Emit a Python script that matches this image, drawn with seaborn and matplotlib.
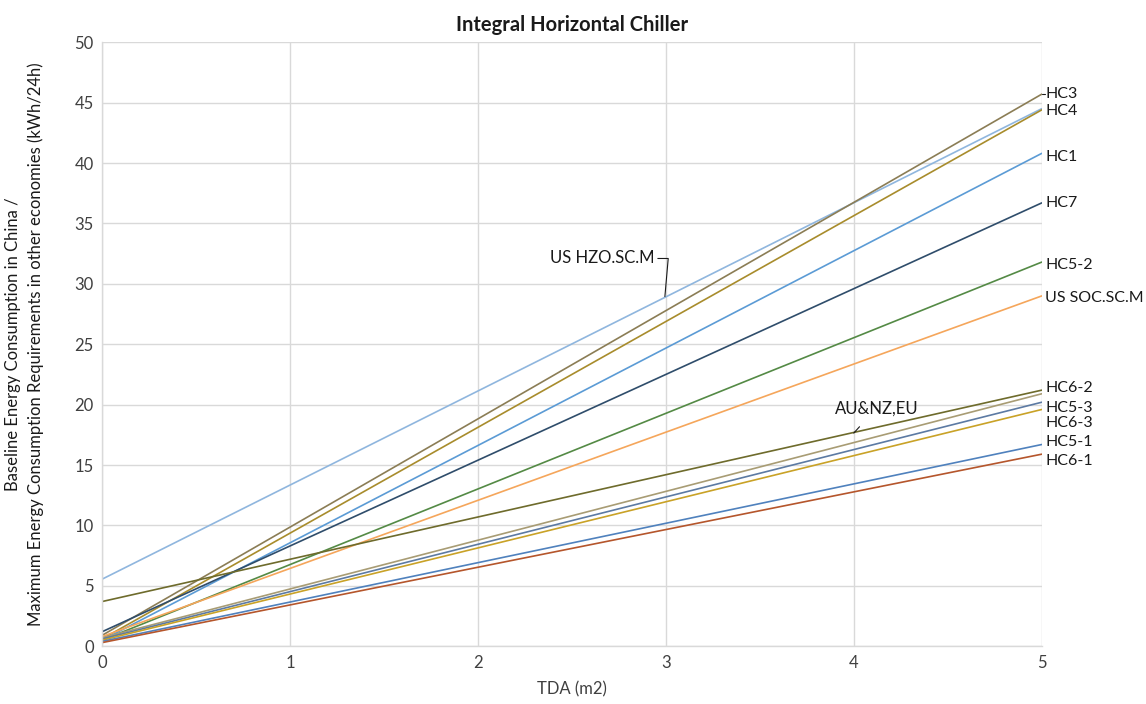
import matplotlib
matplotlib.use("Agg")
import matplotlib.pyplot as plt
import seaborn as sns
import pandas as pd

# Straight-line energy limits: value at TDA = 0 and at TDA = 5 m2
series = ["US HZO.SC.M", "HC3", "HC4", "HC1", "HC7", "HC5-2", "US SOC.SC.M",
          "AU&NZ,EU", "HC6-2", "HC5-3", "HC6-3", "HC5-1", "HC6-1"]
tda = [0, 5]
start_kwh = [5.55, 0.9, 0.6, 0.5, 1.2, 0.5, 0.8, 3.7, 0.7, 0.6, 0.5, 0.4, 0.3]
end_kwh = [44.5, 45.7, 44.4, 40.8, 36.7, 31.8, 29.0, 21.2, 20.9, 20.2, 19.6, 16.7, 15.9]
colors = ["#8fb6de", "#8b7d55", "#a88c2c", "#5b9bd5", "#2f4d6b", "#548a45", "#f5a65b",
          "#6e6b2c", "#a89c74", "#5c7aa3", "#c9a227", "#4f81bd", "#b5562c"]

# Right-hand labels (series, label y position)
end_labels = [("HC3", 45.7), ("HC4", 44.3), ("HC1", 40.5), ("HC7", 36.7), ("HC5-2", 31.6),
              ("US SOC.SC.M", 28.8), ("HC6-2", 21.4), ("HC5-3", 19.7), ("HC6-3", 18.5),
              ("HC5-1", 16.9), ("HC6-1", 15.3)]

rows = []
for name, y0, y1 in zip(series, start_kwh, end_kwh):
    rows.append({"series": name, "TDA": tda[0], "kWh": y0})
    rows.append({"series": name, "TDA": tda[1], "kWh": y1})
df = pd.DataFrame(rows)

sns.set_theme(style="white")
plt.rcParams["font.family"] = ["Lato", "DejaVu Sans"]

fig, ax = plt.subplots(figsize=(11.46, 7.04), dpi=100)
fig.subplots_adjust(left=0.089, right=0.909, top=0.940, bottom=0.082)

sns.lineplot(data=df, x="TDA", y="kWh", hue="series", hue_order=series,
             palette=dict(zip(series, colors)), linewidth=1.2, legend=False, ax=ax)

ax.set_xlim(0, 5)
ax.set_ylim(0, 50)
ax.set_xticks(range(0, 6))
ax.set_yticks(range(0, 51, 5))
ax.grid(True, color="#d9d9d9", linewidth=1.0)
ax.set_axisbelow(True)
for side in ["top", "right"]:
    ax.spines[side].set_visible(False)
for side in ["left", "bottom"]:
    ax.spines[side].set_color("#d9d9d9")
    ax.spines[side].set_linewidth(1.0)
ax.tick_params(axis="both", length=0, labelsize=12, colors="#404040", pad=6)

ax.set_title("Integral Horizontal Chiller", fontsize=14.5, fontweight="bold",
             color="#1a1a1a", pad=8)
ax.set_xlabel("TDA (m2)", fontsize=12, color="#404040", labelpad=8)
ax.set_ylabel("Baseline Energy Consumption in China /\n"
              "Maximum Energy Consumption Requirements in other economies (kWh/24h)",
              fontsize=12, color="#1a1a1a", labelpad=22, linespacing=1.5)

for name, ly in end_labels:
    ax.text(5.02, ly, name, fontsize=11.5, color="#1a1a1a", va="center", ha="left",
            clip_on=False)
# short leader for HC3
ax.plot([5.0, 5.02], [45.7, 45.7], color="#1a1a1a", linewidth=0.8, clip_on=False)

ax.annotate("US HZO.SC.M", xy=(2.995, 28.95), xytext=(2.94, 32.1),
            fontsize=12, color="#1a1a1a", ha="right", va="center",
            arrowprops=dict(arrowstyle="-", color="#1a1a1a", lw=0.8,
                            shrinkA=0, shrinkB=0,
                            connectionstyle="angle,angleA=0,angleB=85,rad=0"))
ax.annotate("AU&NZ,EU", xy=(4.0, 17.65), xytext=(4.12, 19.7),
            fontsize=12, color="#1a1a1a", ha="center", va="center",
            arrowprops=dict(arrowstyle="-", color="#1a1a1a", lw=0.8,
                            shrinkA=7, shrinkB=0))

fig.savefig("out.png", dpi=100)
